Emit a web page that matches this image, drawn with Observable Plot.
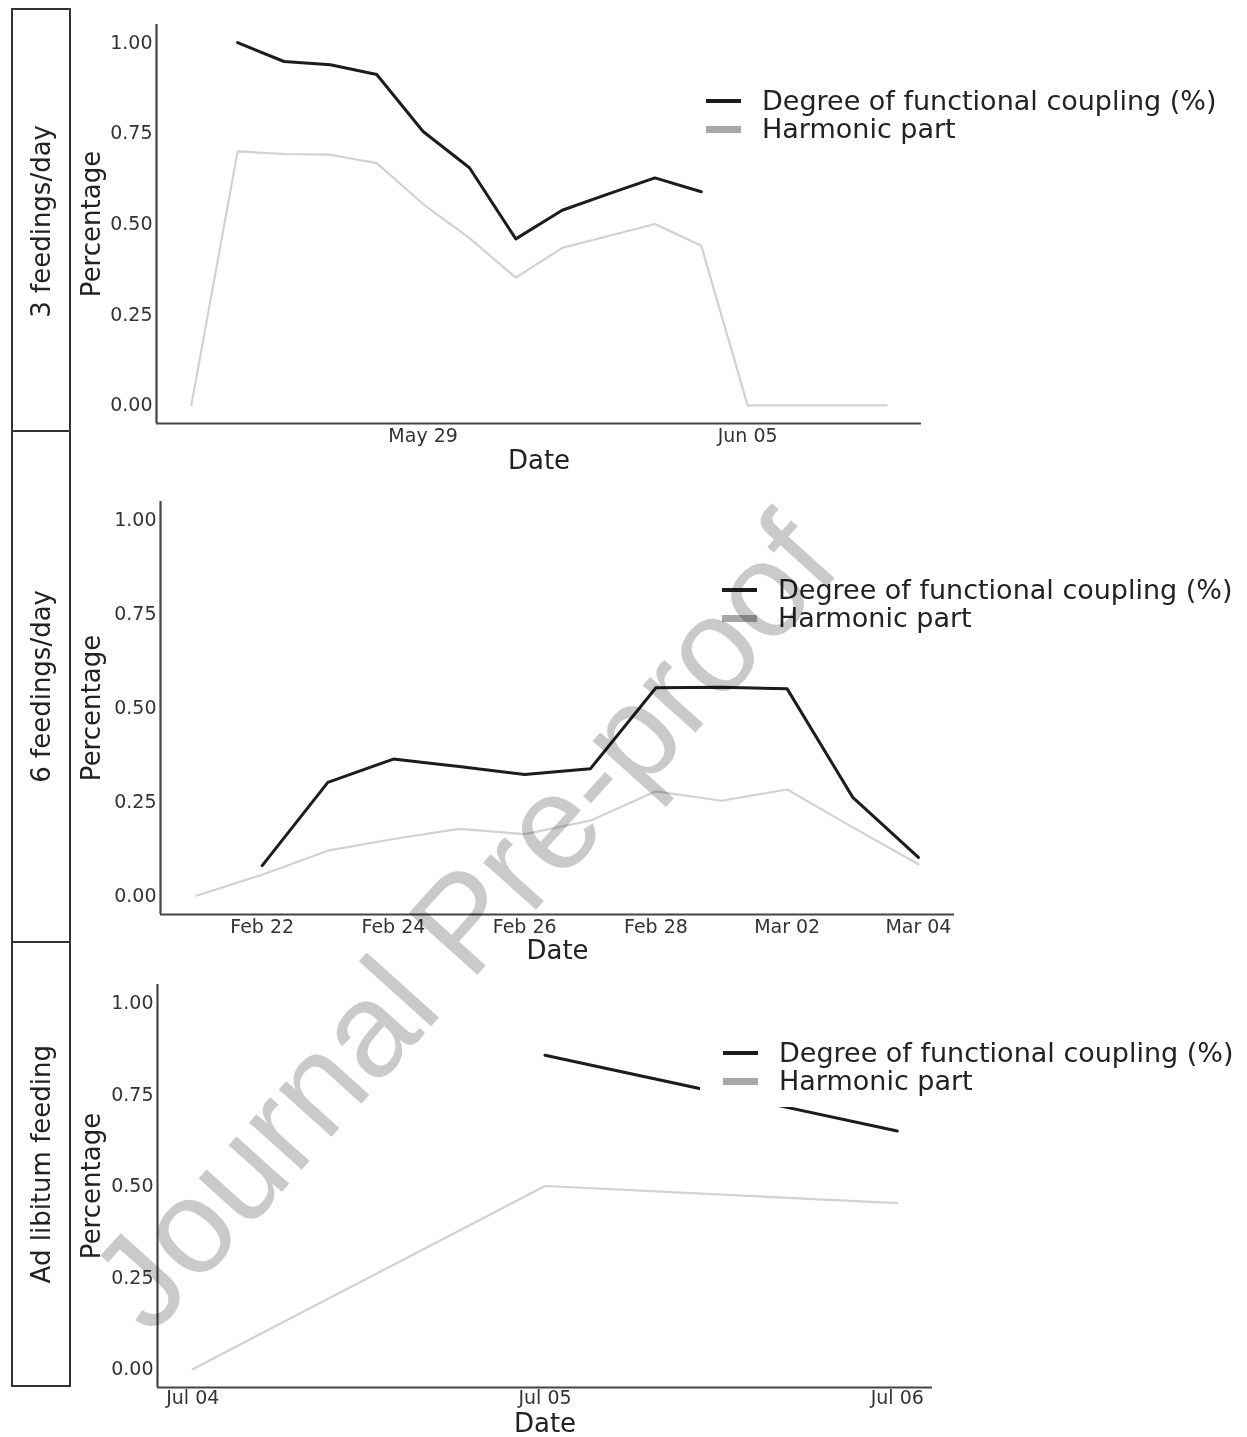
<!DOCTYPE html>
<html>
<head>
<meta charset="utf-8">
<script src="https://cdn.jsdelivr.net/npm/d3@7"></script>
<script src="https://cdn.jsdelivr.net/npm/@observablehq/plot@0.6"></script>
<style>
  html, body { margin: 0; padding: 0; background: #fff; }
  #root { position: relative; width: 1247px; height: 1437px; overflow: hidden; font-family: "DejaVu Sans", sans-serif; background: #fff; isolation: isolate; }
  .panel { position: absolute; left: 0; }
  .strip { position: absolute; left: 11px; width: 60px; box-sizing: border-box; border: 2px solid #333; background: #fff;
           display: flex; align-items: center; justify-content: center; }
  .strip span { writing-mode: vertical-rl; transform: rotate(180deg); font-size: 26px; color: #222; white-space: nowrap; }
  .legend { position: absolute; background: #fff; padding: 0; z-index: 2; }
  .legend .row { display: flex; align-items: center; height: 28px; }
  .legend .sw { width: 35px; margin-right: 21px; }
  .legend .lab { font-size: 27px; color: #222; white-space: nowrap; line-height: 28px; }
  .wm { position: absolute; z-index: 5; font-family: "Liberation Sans", Arial, sans-serif; font-size: 134px; line-height: 1;
        color: rgb(202,202,202); white-space: nowrap; transform-origin: 0 0; mix-blend-mode: multiply; }
</style>
</head>
<body>
<div id="root"></div>
<script>
// ---------- data ----------
const stripLabels = ["3 feedings/day", "6 feedings/day", "Ad libitum feeding"];
const seriesNames = ["Degree of functional coupling (%)", "Harmonic part"];

// Panel 1: 3 feedings/day
const dates1 = ["2019-05-24","2019-05-25","2019-05-26","2019-05-27","2019-05-28","2019-05-29","2019-05-30","2019-05-31",
                "2019-06-01","2019-06-02","2019-06-03","2019-06-04","2019-06-05","2019-06-06","2019-06-07","2019-06-08"];
const coupling1 = [null,1.00,0.948,0.939,0.912,0.755,0.655,0.459,0.538,0.583,0.627,0.589,null,null,null,null];
const harmonic1 = [0.00,0.700,0.693,0.691,0.668,0.555,0.461,0.352,0.434,0.467,0.500,0.440,0.00,0.00,0.00,0.00];
const ticks1 = ["2019-05-29","2019-06-05"];

// Panel 2: 6 feedings/day
const dates2 = ["2019-02-21","2019-02-22","2019-02-23","2019-02-24","2019-02-25","2019-02-26","2019-02-27","2019-02-28",
                "2019-03-01","2019-03-02","2019-03-03","2019-03-04"];
const coupling2 = [null,0.080,0.302,0.364,0.344,0.323,0.338,0.554,0.555,0.551,0.262,0.102];
const harmonic2 = [0.00,0.056,0.120,0.151,0.178,0.164,0.200,0.278,0.253,0.283,0.182,0.084];
const ticks2 = ["2019-02-22","2019-02-24","2019-02-26","2019-02-28","2019-03-02","2019-03-04"];

// Panel 3: Ad libitum feeding
const dates3 = ["2019-07-04","2019-07-05","2019-07-06"];
const coupling3 = [null,0.857,0.650];
const harmonic3 = [0.00,0.500,0.453];
const ticks3 = ["2019-07-04","2019-07-05","2019-07-06"];

const yTicks = [0, 0.25, 0.5, 0.75, 1.0];
const yDomain = [-0.05, 1.05];

// ---------- layout ----------
const panels = [
  {dates: dates1, coupling: coupling1, harmonic: harmonic1, ticks: ticks1,
   top: 0, height: 474, mt: 24, mb: 51, ml: 156, mr: 326, dateDy: 37, tp: 5,
   strip: [8, 426], legend: {left: 683, top: 75, swl: 23}},
  {dates: dates2, coupling: coupling2, harmonic: harmonic2, ticks: ticks2,
   top: 474, height: 491, mt: 27, mb: 51, ml: 160, mr: 293, dateDy: 36, tp: 5,
   strip: [432, 513], legend: {left: 699, top: 564, swl: 23}},
  {dates: dates3, coupling: coupling3, harmonic: harmonic3, ticks: ticks3,
   top: 965, height: 472, mt: 19, mb: 50, ml: 157, mr: 315, dateDy: 36, tp: 3,
   strip: [943, 446], legend: {left: 700, top: 1027, swl: 23}}
];

const root = document.getElementById("root");
const fmt = d3.utcFormat("%b %d");

panels.forEach((p, k) => {
  const table = p.dates.map((d, i) => ({date: new Date(d), coupling: p.coupling[i], harmonic: p.harmonic[i]}));
  const [a, b] = d3.extent(table, d => d.date);
  const pad = (b - a) * 0.05;
  const xDomain = [new Date(+a - pad), new Date(+b + pad)];

  const chart = Plot.plot({
    width: 1247,
    height: p.height,
    marginTop: p.mt, marginBottom: p.mb, marginLeft: p.ml, marginRight: p.mr,
    style: {background: "transparent", fontFamily: "DejaVu Sans", fontSize: "19px", color: "#333", overflow: "visible"},
    x: {type: "utc", domain: xDomain, ticks: p.ticks.map(t => new Date(t)), tickFormat: fmt, tickSize: 0, tickPadding: p.tp, label: null},
    y: {domain: yDomain, ticks: yTicks, tickFormat: d3.format(".2f"), tickSize: 0, tickPadding: 4, label: null},
    marks: [
      Plot.line(table.filter(d => d.harmonic != null), {x: "date", y: "harmonic", stroke: "#d2d2d2", strokeWidth: 2.2}),
      Plot.line(table.filter(d => d.coupling != null), {x: "date", y: "coupling", stroke: "#1c1c1c", strokeWidth: 3}),
      Plot.ruleY([yDomain[0]], {stroke: "#444", strokeWidth: 2.2}),
      Plot.ruleX([xDomain[0]], {stroke: "#444", strokeWidth: 2.2}),
      Plot.text(["Date"], {frameAnchor: "bottom", dy: p.dateDy, lineAnchor: "middle", textAnchor: "middle",
                           text: d => d, fontSize: 26, fill: "#222"}),
      Plot.text(["Percentage"], {frameAnchor: "left", dx: 91 - p.ml, rotate: -90, lineAnchor: "middle", textAnchor: "middle",
                                 text: d => d, fontSize: 26, fill: "#222"})
    ]
  });
  const wrap = document.createElement("div");
  wrap.className = "panel";
  wrap.style.top = p.top + "px";
  wrap.appendChild(chart);
  root.appendChild(wrap);

  // strip label box
  const s = document.createElement("div");
  s.className = "strip";
  s.style.top = (k === 0 ? p.strip[0] : p.strip[0] - 2) + "px";
  s.style.height = p.strip[1] + "px";
  const sp = document.createElement("span");
  sp.textContent = stripLabels[k];
  s.appendChild(sp);
  root.appendChild(s);

  // legend
  const lg = document.createElement("div");
  lg.className = "legend";
  lg.style.left = p.legend.left + "px";
  lg.style.top = p.legend.top + "px";
  lg.style.width = (1247 - p.legend.left) + "px";
  lg.style.padding = "12px 0 12px " + p.legend.swl + "px";
  lg.style.boxSizing = "border-box";
  const swatches = [{c: "#1c1c1c", h: 4}, {c: "#a8a8a8", h: 7}];
  seriesNames.forEach((name, j) => {
    const row = document.createElement("div");
    row.className = "row";
    const sw = document.createElement("div");
    sw.className = "sw";
    sw.style.background = swatches[j].c;
    sw.style.height = swatches[j].h + "px";
    const lab = document.createElement("div");
    lab.className = "lab";
    lab.textContent = name;
    row.appendChild(sw); row.appendChild(lab);
    lg.appendChild(row);
  });
  root.appendChild(lg);
});

// watermark
const wm = document.createElement("div");
wm.className = "wm";
wm.textContent = "Journal Pre-proof";
root.appendChild(wm);
const w = wm.offsetWidth, h = wm.offsetHeight;
const cx = 463, cy = 922;
wm.style.left = cx + "px";
wm.style.top = cy + "px";
wm.style.transform = "rotate(-48deg) translate(" + (-w / 2) + "px," + (-h / 2) + "px)";
</script>
</body>
</html>
